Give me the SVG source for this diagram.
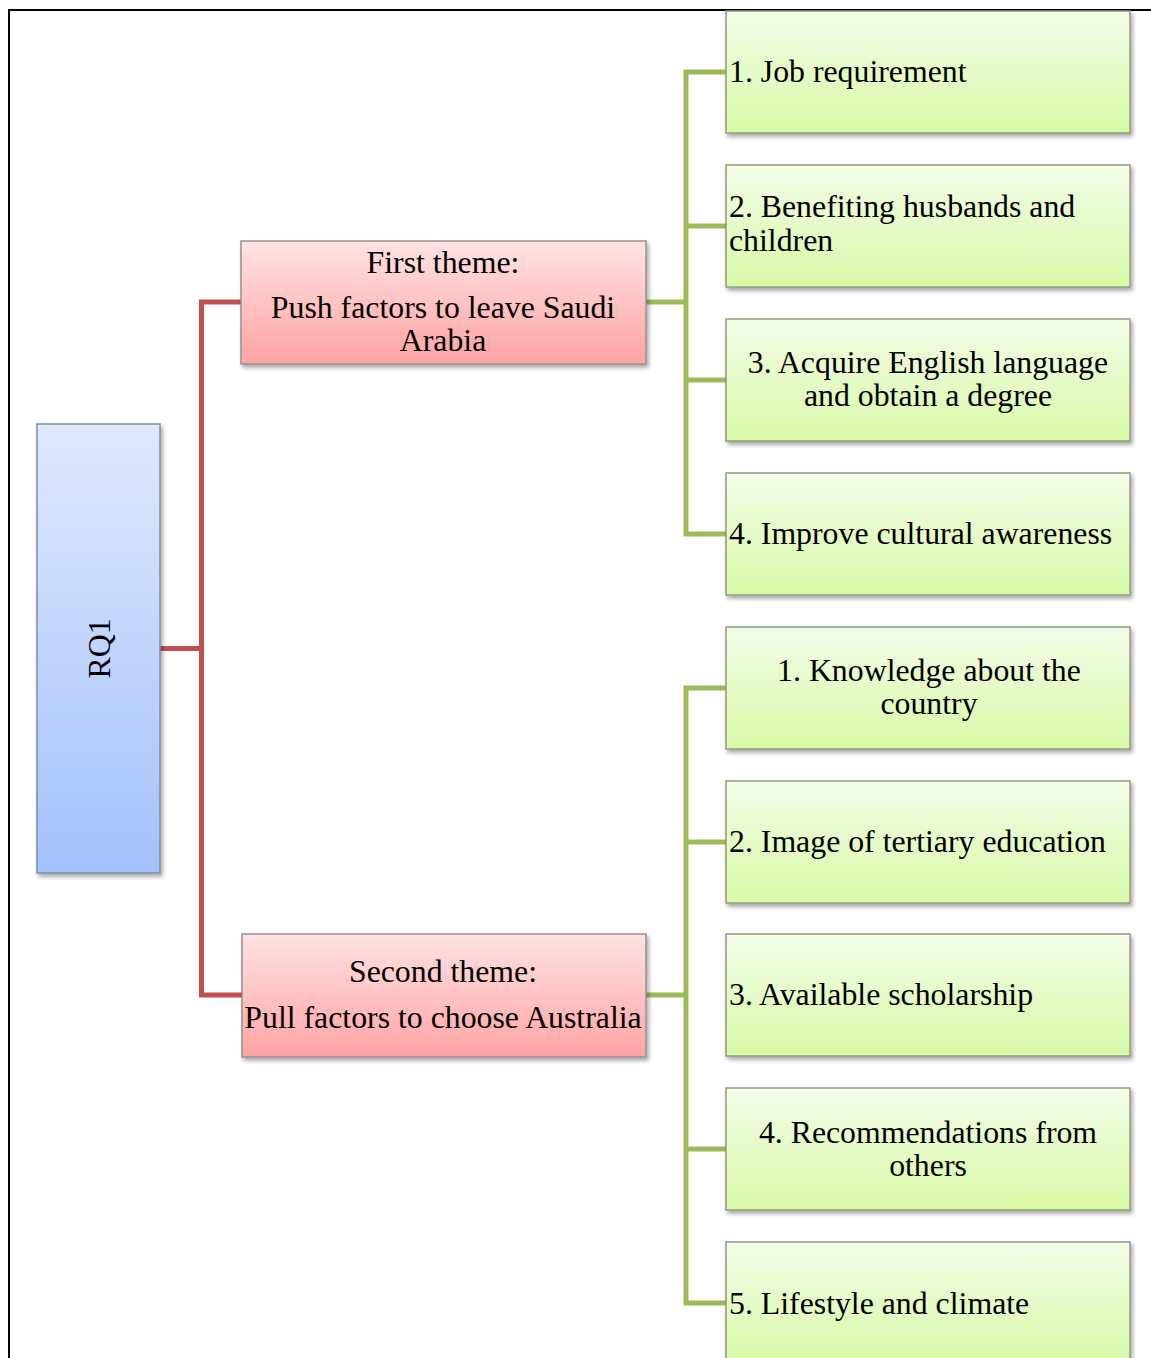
<svg xmlns="http://www.w3.org/2000/svg" width="1151" height="1358" viewBox="0 0 1151 1358">
  <defs>
    <linearGradient id="gGreen" x1="0" y1="0" x2="0" y2="1">
      <stop offset="0" stop-color="#f3fde9"/>
      <stop offset="1" stop-color="#d8f9a6"/>
    </linearGradient>
    <linearGradient id="gRed" x1="0" y1="0" x2="0" y2="1">
      <stop offset="0" stop-color="#ffe3e3"/>
      <stop offset="1" stop-color="#ffa3a3"/>
    </linearGradient>
    <linearGradient id="gBlue" x1="0" y1="0" x2="0" y2="1">
      <stop offset="0" stop-color="#dfe9fe"/>
      <stop offset="1" stop-color="#a3c1fb"/>
    </linearGradient>
    <filter id="shadow" x="-10%" y="-10%" width="125%" height="130%">
      <feDropShadow dx="2" dy="3" stdDeviation="2" flood-color="#000" flood-opacity="0.35"/>
    </filter>
  </defs>
  <style>
    text { font-family: "Liberation Serif", "Times New Roman", serif; font-size: 31.8px; fill: #000; }
    .mid { text-anchor: middle; }
    .leaf rect { fill: url(#gGreen); stroke: #8f9c80; stroke-width: 1.5; filter: url(#shadow); }
    .theme rect { fill: url(#gRed); stroke: #9a8f8f; stroke-width: 1.5; filter: url(#shadow); }
    .root rect { fill: url(#gBlue); stroke: #7f8da6; stroke-width: 1.5; filter: url(#shadow); }
    .red { fill: none; stroke: #c0504d; stroke-width: 5; }
    .green { fill: none; stroke: #9bbb59; stroke-width: 5; }
  </style>

  <rect width="1151" height="1358" fill="#fff"/>

  <!-- page frame -->
  <path d="M9 1358 V10 H1151" fill="none" stroke="#000" stroke-width="2"/>

  <!-- connectors -->
  <g id="connectors">
    <path class="red" d="M160 648.5 H201.5 M241 302 H201.5 V995 H242"/>
    <path class="green" d="M646 302 H686 M726 72 H686 V534 H726 M686 226 H726 M686 380 H726"/>
    <path class="green" d="M646 995 H686 M726 688 H686 V1303 H726 M686 842 H726 M686 1149 H726"/>
  </g>

  <!-- root -->
  <g id="rq1" class="root">
    <rect x="37" y="424" width="123" height="449"/>
    <text class="mid" transform="translate(110 648.5) rotate(-90)">RQ1</text>
  </g>

  <!-- themes -->
  <g id="theme1" class="theme">
    <rect x="241" y="241" width="405" height="123"/>
    <text class="mid" x="443" y="273">First theme:</text>
    <text class="mid" x="443" y="318">Push factors to leave Saudi</text>
    <text class="mid" x="443" y="351">Arabia</text>
  </g>
  <g id="theme2" class="theme">
    <rect x="242" y="934" width="404" height="123"/>
    <text class="mid" x="443" y="982">Second theme:</text>
    <text class="mid" x="443" y="1028">Pull factors to choose Australia</text>
  </g>

  <!-- push factors -->
  <g id="push1" class="leaf">
    <rect x="726" y="11" width="404" height="122"/>
    <text x="729" y="82">1. Job requirement</text>
  </g>
  <g id="push2" class="leaf">
    <rect x="726" y="165" width="404" height="122"/>
    <text x="729" y="217">2. Benefiting husbands and</text>
    <text x="729" y="251">children</text>
  </g>
  <g id="push3" class="leaf">
    <rect x="726" y="319" width="404" height="122"/>
    <text class="mid" x="928" y="373">3. Acquire English language</text>
    <text class="mid" x="928" y="406">and obtain a degree</text>
  </g>
  <g id="push4" class="leaf">
    <rect x="726" y="473" width="404" height="122"/>
    <text x="729" y="544">4. Improve cultural awareness</text>
  </g>

  <!-- pull factors -->
  <g id="pull1" class="leaf">
    <rect x="726" y="627" width="404" height="122"/>
    <text class="mid" x="929" y="681">1. Knowledge about the</text>
    <text class="mid" x="929" y="714">country</text>
  </g>
  <g id="pull2" class="leaf">
    <rect x="726" y="781" width="404" height="122"/>
    <text x="729" y="852">2. Image of tertiary education</text>
  </g>
  <g id="pull3" class="leaf">
    <rect x="726" y="934" width="404" height="122"/>
    <text x="729" y="1005">3. Available scholarship</text>
  </g>
  <g id="pull4" class="leaf">
    <rect x="726" y="1088" width="404" height="122"/>
    <text class="mid" x="928" y="1143">4. Recommendations from</text>
    <text class="mid" x="928" y="1176">others</text>
  </g>
  <g id="pull5" class="leaf">
    <rect x="726" y="1242" width="404" height="122"/>
    <text x="729" y="1314">5. Lifestyle and climate</text>
  </g>
</svg>
